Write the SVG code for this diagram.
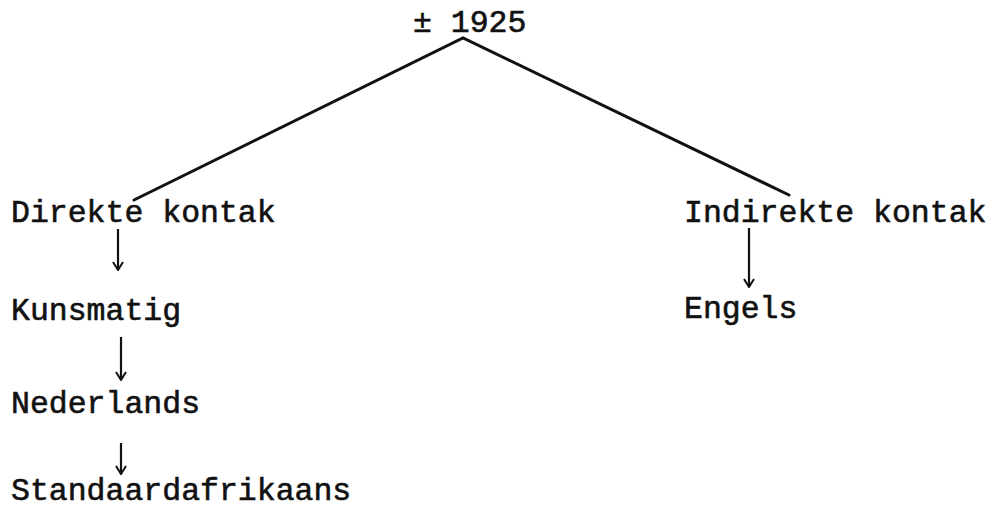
<svg xmlns="http://www.w3.org/2000/svg" width="993" height="510" viewBox="0 0 993 510">
  <style>
    text { font-family: "Liberation Mono", "DejaVu Sans Mono", monospace; font-size: 31.5px; fill: #111; stroke: #111; stroke-width: 0.6; }
    .branch { stroke: #111; stroke-width: 3; fill: none; stroke-linecap: round; }
    .arrow { stroke: #111; stroke-width: 2.2; fill: none; marker-end: url(#head); }
  </style>
  <defs>
    <!-- open chevron head, drawn pointing along +x so orient="auto" follows the line -->
    <marker id="head" viewBox="0 0 12 12" refX="11" refY="6" markerWidth="12" markerHeight="12" markerUnits="userSpaceOnUse" orient="auto">
      <path d="M3,1 L11,6 L3,11" fill="none" stroke="#111" stroke-width="2"/>
    </marker>
  </defs>
  <rect width="993" height="510" fill="#fff"/>

  <g id="connectors">
    <path class="branch" d="M134,200 L463,38 L789,195"/>
    <line class="arrow" x1="118" y1="229" x2="118" y2="270"/>
    <line class="arrow" x1="121" y1="337" x2="121" y2="380"/>
    <line class="arrow" x1="121" y1="443" x2="121" y2="474"/>
    <line class="arrow" x1="749" y1="228" x2="749" y2="287"/>
  </g>

  <g id="root"><text x="413" y="32">± 1925</text></g>
  <g id="direkte"><text x="11" y="222">Direkte kontak</text></g>
  <g id="kunsmatig"><text x="11" y="320">Kunsmatig</text></g>
  <g id="nederlands"><text x="11" y="413">Nederlands</text></g>
  <g id="standaardafrikaans"><text x="11" y="500">Standaardafrikaans</text></g>
  <g id="indirekte"><text x="684" y="222">Indirekte kontak</text></g>
  <g id="engels"><text x="684" y="318">Engels</text></g>
</svg>
